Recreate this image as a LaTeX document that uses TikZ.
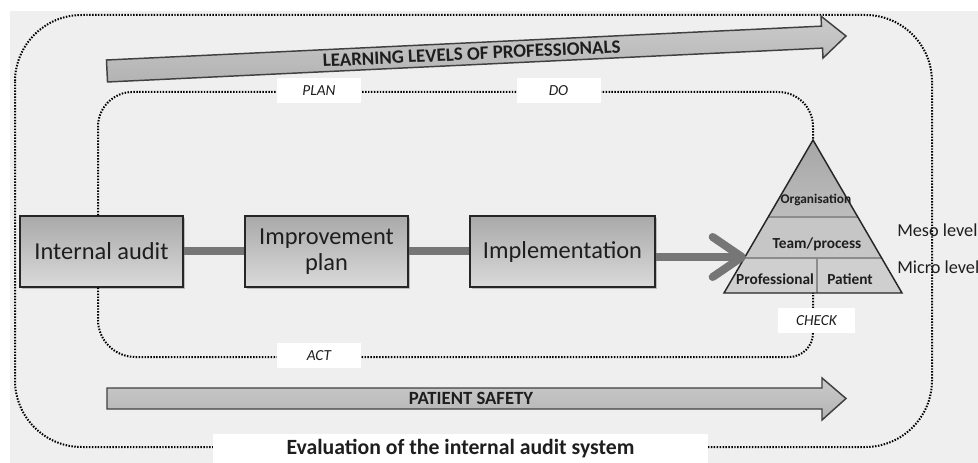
\documentclass[tikz,border=0pt]{standalone}
\usepackage{fontspec}
\setmainfont{Carlito}
\usetikzlibrary{arrows.meta,shadows}
\definecolor{bg}{HTML}{EFEFEF}
\definecolor{boxtop}{HTML}{A9A9A9}
\definecolor{boxbot}{HTML}{DADADA}
\definecolor{connc}{HTML}{767676}
\definecolor{txt}{HTML}{1E1E1E}
\definecolor{arrtop}{HTML}{CBCBCB}
\definecolor{arrbot}{HTML}{B3B3B3}
\definecolor{pytop}{HTML}{A6A6A6}
\definecolor{pytopb}{HTML}{BDBDBD}
\definecolor{pymid}{HTML}{C6C6C6}
\definecolor{pybot}{HTML}{CFCFCF}
\begin{document}
\begin{tikzpicture}[x=0.75pt,y=-0.75pt,
 dotline/.style={line width=1.5pt, dash pattern=on 1.1pt off 1.1pt, black},
 procbox/.style={draw=black!85, line width=1.1pt, top color=boxtop, bottom color=boxbot,
   minimum height=53.25pt, align=center, font=\fontsize{18.3}{19}\selectfont, text=txt,
   drop shadow={shadow xshift=1.6pt, shadow yshift=-1.6pt, opacity=0.45}},
 connline/.style={line width=6pt, connc},
 labelbox/.style={fill=white, inner sep=0pt, font=\itshape\fontsize{11.5}{13}\selectfont, text=txt, minimum height=18.75pt},
 bigarrow/.style={draw=black!75, line width=1.1pt, top color=arrtop, bottom color=arrbot, line join=miter},
 pylab/.style={font=\bfseries\fontsize{11.5}{13}\selectfont, text=txt, inner sep=0pt},
 sidelab/.style={anchor=west, font=\fontsize{13.7}{16}\selectfont, text=txt, inner sep=0pt}
]
\useasboundingbox (0,0) rectangle (978,463);
\fill[bg] (10,11) rectangle (978,463);

% outer loop
\draw[dotline, rounded corners=50pt] (15,15) rectangle (932,447);

% big arrows
\draw[bigarrow] (106.48,60.01) -- (821.5,26.15) -- (821,16.16) -- (846,36) -- (822.99,58.12) -- (822.52,48.13) -- (107.52,81.99) -- cycle;
\node[font=\bfseries\fontsize{14.2}{16}\selectfont, rotate=2.71, text=txt, inner sep=0pt] (learn) at (471.6,53.8) {LEARNING LEVELS OF PROFESSIONALS};
\draw[bigarrow] (107,388) -- (822,388) -- (822,378) -- (846,398.5) -- (822,420) -- (822,409) -- (107,409) -- cycle;
\node[font=\bfseries\fontsize{14}{16}\selectfont, text=txt, inner sep=0pt] (ps) at (471,398.5) {PATIENT SAFETY};

% pyramid
\coordinate (apex) at (813,140);
\coordinate (bl) at (724,293);
\coordinate (br) at (902,293);
\coordinate (l1) at (768.2,217);
\coordinate (r1) at (857.8,217);
\coordinate (l2) at (744.4,258);
\coordinate (r2) at (881.6,258);
\coordinate (dv) at (817,258);
\coordinate (db) at (817,293);
\coordinate (pbase) at (813,293);
\fill[top color=pytop, bottom color=pytopb] (apex) -- (r1) -- (l1) -- cycle;
\fill[pymid] (l1) -- (r1) -- (r2) -- (l2) -- cycle;
\fill[pybot] (l2) -- (r2) -- (br) -- (bl) -- cycle;
\draw[black!45, line width=0.8pt] (l1) -- (r1) (l2) -- (r2) (dv) -- (db);
\draw[black!85, line width=1.1pt, line join=miter] (apex) -- (br) -- (bl) -- cycle;
\node[pylab, font=\bfseries\fontsize{10}{12}\selectfont] (org) at (816,200) {Organisation};
\node[pylab] (team) at (817,244) {Team/process};
\node[pylab] (prof) at (775,279) {Professional};
\node[pylab] (pat) at (850,279) {Patient};

% side labels
\node[sidelab] (meso) at (897,230) {Meso level};
\node[sidelab] (micro) at (897,267) {Micro level};

% process boxes
\node[procbox, minimum width=122.25pt] (ia) at (101.5,251.5) {Internal audit};
\node[procbox, minimum width=122.25pt] (ip) at (326.5,251.5) {Improvement\\plan};
\node[procbox, minimum width=138.75pt] (impl) at (562.5,251.5) {Implementation};

% connectors
\draw[connline] (ia.east) -- (ip.west);
\draw[connline] (ip.east) -- (impl.west);
\coordinate (pyrin) at (746,257);
\draw[connline, -{Straight Barb[length=22pt,width=30pt,round]}] (impl.east |- pyrin) -- (pyrin);

% inner PDCA loop
\coordinate (ptl) at (98,92);
\coordinate (ptr) at (813,92);
\coordinate (pbl) at (98,357);
\coordinate (pbr) at (813,357);
\draw[dotline, rounded corners=26pt] (ia.north -| ptl) -- (ptl) -- (ptr) -- (apex);
\draw[dotline] (ia.south -| pbl) [rounded corners=28pt] -- (pbl) [rounded corners=18pt] -- (pbr) -- (pbase);

% labels on loops
\node[labelbox, minimum width=63pt] (plan) at (319,90.5) {PLAN};
\node[labelbox, minimum width=63pt] (do) at (558.5,90.5) {DO};
\node[labelbox, minimum width=63pt] (act) at (319,355.5) {ACT};
\node[labelbox, minimum width=57.75pt] (check) at (816.5,320.5) {CHECK};
\node[fill=white, minimum width=371.25pt, minimum height=22.5pt, inner sep=0pt, text=txt,
  font=\bfseries\fontsize{16.3}{18}\selectfont] (eval) at (460.5,449) {Evaluation of the internal audit system};
\end{tikzpicture}
\end{document}
